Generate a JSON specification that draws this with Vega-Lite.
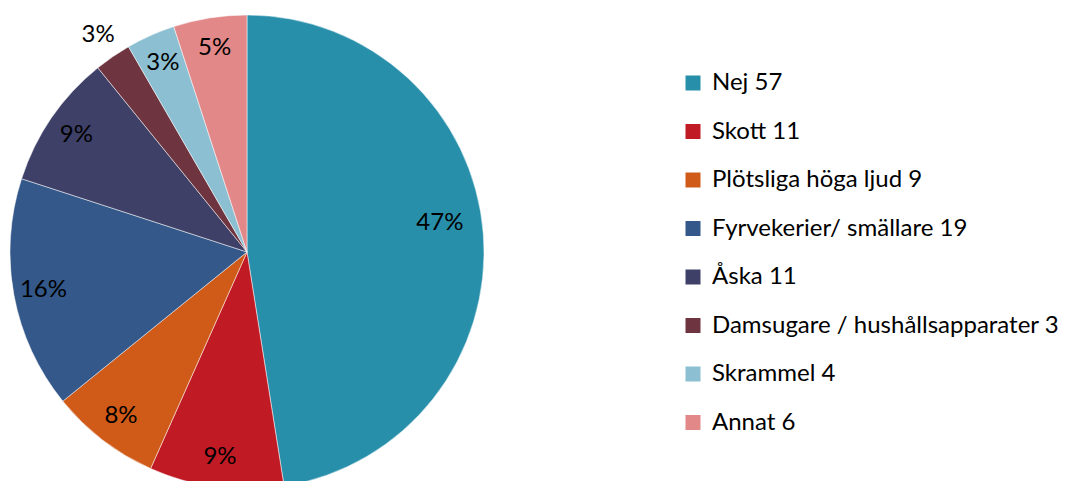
{
  "$schema": "https://vega.github.io/schema/vega-lite/v6.json",
  "width": 474,
  "height": 474,
  "autosize": {"type": "none"},
  "padding": {"left": 10, "top": 15, "right": 583, "bottom": 0},
  "background": "white",
  "config": {"view": {"stroke": null}},
  "data": {
    "values": [
      {"label": "Nej 57", "value": 57, "pct": "47%", "order": 1},
      {"label": "\u00a0Skott 11", "value": 11, "pct": "9%", "order": 2},
      {"label": "Plötsliga höga ljud 9", "value": 9, "pct": "8%", "order": 3},
      {"label": "Fyrvekerier/ smällare 19", "value": 19, "pct": "16%", "order": 4},
      {"label": "Åska 11", "value": 11, "pct": "9%", "order": 5},
      {"label": "Damsugare / hushållsapparater 3", "value": 3, "pct": "3%", "order": 6},
      {"label": "Skrammel 4", "value": 4, "pct": "3%", "order": 7},
      {"label": "Annat 6", "value": 6, "pct": "5%", "order": 8}
    ]
  },
  "encoding": {
    "theta": {"field": "value", "type": "quantitative", "stack": true},
    "order": {"field": "order", "type": "quantitative"}
  },
  "layer": [
    {
      "mark": {"type": "arc", "stroke": "#ffffff", "strokeWidth": 0.5},
      "encoding": {
        "color": {
          "field": "label",
          "type": "nominal",
          "scale": {
            "domain": ["Nej 57", "\u00a0Skott 11", "Plötsliga höga ljud 9", "Fyrvekerier/ smällare 19", "Åska 11", "Damsugare / hushållsapparater 3", "Skrammel 4", "Annat 6"],
            "range": ["#288FAB", "#C01B24", "#D05A17", "#335889", "#3E4068", "#6E3540", "#8BBFD1", "#E38889"]
          },
          "legend": {
            "title": null,
            "orient": "none",
            "legendX": 671,
            "legendY": 56,
            "padding": 0,
            "symbolType": "square",
            "symbolSize": 225,
            "symbolStrokeWidth": 0,
            "labelFont": "Lato",
            "labelFontSize": 24,
            "labelColor": "#000000",
            "labelOffset": 7,
            "labelLimit": 500,
            "rowPadding": 24.5
          }
        }
      }
    },
    {
      "mark": {"type": "text", "radius": 207, "font": "Lato", "fontSize": 24, "color": "#000000"},
      "encoding": {
        "detail": {"field": "label", "type": "nominal"},
        "text": {"condition": {"test": "datum.order === 6 || datum.order === 1", "value": ""}, "field": "pct", "type": "nominal"}
      }
    },
    {
      "mark": {"type": "text", "radius": 195, "thetaOffset": -0.07, "font": "Lato", "fontSize": 24, "color": "#000000"},
      "encoding": {
        "detail": {"field": "label", "type": "nominal"},
        "text": {"condition": {"test": "datum.order !== 1", "value": ""}, "field": "pct", "type": "nominal"}
      }
    },
    {
      "mark": {"type": "text", "radius": 263, "font": "Lato", "fontSize": 24, "color": "#000000"},
      "encoding": {
        "detail": {"field": "label", "type": "nominal"},
        "text": {"condition": {"test": "datum.order !== 6", "value": ""}, "field": "pct", "type": "nominal"}
      }
    }
  ]
}
